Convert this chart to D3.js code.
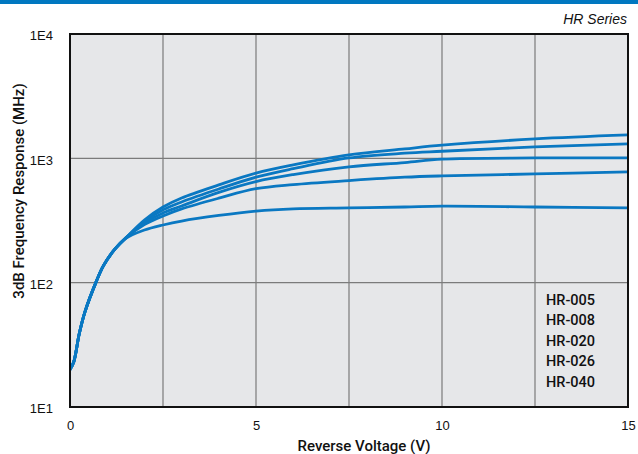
<!DOCTYPE html>
<html>
<head>
<meta charset="utf-8">
<script src="https://cdn.jsdelivr.net/npm/d3@7"></script>
<style>
  html, body { margin: 0; padding: 0; background: #ffffff; }
  svg { display: block; }
  text { font-family: "Liberation Sans", Arial, Helvetica, sans-serif; fill: #111; }
</style>
</head>
<body>
<svg id="chart" width="638" height="454"></svg>
<script>
// Reverse voltage sample points (V)
const voltage = [0, 0.1, 0.25, 0.4, 0.7, 0.9, 1.2, 1.5, 2, 2.5, 3, 4, 5, 6, 7.5, 9, 10, 12.5, 15];

// 3dB frequency response (MHz) per part
const hr005 = [20, 23, 39, 58, 101, 137, 185, 229, 319, 406, 480, 611, 760, 885, 1065, 1190, 1275, 1432, 1542];
const hr008 = [20, 23, 39, 58, 101, 137, 185, 229, 308, 385, 446, 567, 705, 825, 1007, 1100, 1140, 1236, 1306];
const hr020 = [20, 23, 39, 58, 101, 137, 185, 229, 300, 364, 414, 532, 650, 740, 855, 925, 985, 1007, 1007];
const hr026 = [20, 23, 39, 58, 101, 137, 185, 229, 293, 344, 392, 478, 570, 615, 662, 705, 722, 749, 778];
const hr040 = [20, 23, 39, 58, 101, 137, 185, 227, 265, 291, 313, 347, 376, 392, 399, 406, 412, 406, 399];

const seriesNames = ["HR-005", "HR-008", "HR-020", "HR-026", "HR-040"];
const seriesValues = [hr005, hr008, hr020, hr026, hr040];

const xTicks = [0, 5, 10, 15];
const xGrid = [2.5, 5, 7.5, 10, 12.5];
const yTicks = [10, 100, 1000, 10000];
const yTickLabels = ["1E1", "1E2", "1E3", "1E4"];

const svg = d3.select("#chart");
const plotL = 70, plotR = 628, plotT = 34, plotB = 407;

const x = d3.scaleLinear().domain([0, 15]).range([plotL, plotR]);
const y = d3.scaleLog().domain([10, 10000]).range([plotB, plotT]);

// header band
svg.append("rect").attr("x", 0).attr("y", 0).attr("width", 638).attr("height", 4).attr("fill", "#0077c0");

svg.append("text")
  .attr("x", 627).attr("y", 24)
  .attr("text-anchor", "end")
  .style("font-style", "italic")
  .style("font-size", "14px")
  .text("HR Series");

// plot background
svg.append("rect")
  .attr("x", plotL).attr("y", plotT)
  .attr("width", plotR - plotL).attr("height", plotB - plotT)
  .attr("fill", "#e6e7e9");

// grid
const grid = svg.append("g").attr("stroke", "#7b7b7b").attr("stroke-width", 1.2);
grid.selectAll("line.v").data(xGrid).enter().append("line")
  .attr("x1", d => x(d)).attr("x2", d => x(d))
  .attr("y1", plotT).attr("y2", plotB);
grid.selectAll("line.h").data([100, 1000]).enter().append("line")
  .attr("x1", plotL).attr("x2", plotR)
  .attr("y1", d => y(d)).attr("y2", d => y(d));

// curves
svg.append("clipPath").attr("id", "plotClip")
  .append("rect").attr("x", plotL).attr("y", plotT).attr("width", plotR - plotL).attr("height", plotB - plotT);

const line = d3.line()
  .x(d => x(d[0]))
  .y(d => y(d[1]))
  .curve(d3.curveCatmullRom.alpha(0.5));

svg.append("g").attr("clip-path", "url(#plotClip)")
  .selectAll("path")
  .data(seriesValues.slice().reverse())
  .enter().append("path")
  .attr("d", vals => line(voltage.map((v, i) => [v, vals[i]])))
  .attr("fill", "none")
  .attr("stroke", "#0a78c2")
  .attr("stroke-width", 2.8)
  .attr("stroke-linejoin", "round")
  .attr("stroke-linecap", "round");

// frame
svg.append("rect")
  .attr("x", plotL).attr("y", plotT)
  .attr("width", plotR - plotL).attr("height", plotB - plotT)
  .attr("fill", "none")
  .attr("stroke", "#111")
  .attr("stroke-width", 2);

// axes labels
const xAxis = d3.axisBottom(x).tickValues(xTicks).tickSize(0).tickPadding(14).tickFormat(d3.format("d"));
const gx = svg.append("g").attr("transform", `translate(0,${plotB})`).call(xAxis);
gx.select(".domain").remove();
gx.selectAll("text").style("font-size", "13px").style("font-family", "'Liberation Sans', Arial, sans-serif").attr("fill", "#111");

const yAxis = d3.axisLeft(y).tickValues(yTicks).tickSize(0).tickPadding(17)
  .tickFormat((d, i) => yTickLabels[i]);
const gy = svg.append("g").attr("transform", `translate(${plotL},0)`).call(yAxis);
gy.select(".domain").remove();
gy.selectAll("text").style("font-size", "13px").style("font-family", "'Liberation Sans', Arial, sans-serif").attr("fill", "#111").attr("dy", "0.45em");

svg.append("text")
  .attr("x", 364).attr("y", 451)
  .attr("text-anchor", "middle")
  .style("font-size", "15px")
  .style("font-family", "Roboto, 'Liberation Sans', sans-serif")
  .style("font-weight", 500)
  .text("Reverse Voltage (V)");

svg.append("text")
  .attr("transform", "translate(24,191) rotate(-90)")
  .attr("text-anchor", "middle")
  .style("font-size", "15px")
  .style("font-family", "Roboto, 'Liberation Sans', sans-serif")
  .style("font-weight", 500)
  .text("3dB Frequency Response (MHz)");

// legend
svg.append("g").selectAll("text").data(seriesNames).enter().append("text")
  .attr("x", 546).attr("y", (d, i) => 304.5 + i * 20.6)
  .style("font-size", "14.5px")
  .style("font-family", "Roboto, 'Liberation Sans', sans-serif")
  .style("font-weight", 500)
  .text(d => d);
</script>
</body>
</html>
